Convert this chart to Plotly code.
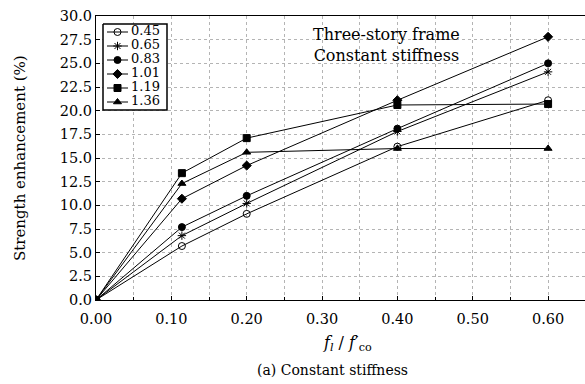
import plotly.graph_objects as go

x_vals = [0.0, 0.114, 0.20, 0.40, 0.60]
series_names = ["0.45", "0.65", "0.83", "1.01", "1.19", "1.36"]
y_045 = [0.0, 5.7, 9.1, 16.2, 21.1]
y_065 = [0.0, 6.8, 10.2, 17.8, 24.1]
y_083 = [0.0, 7.7, 11.0, 18.1, 25.0]
y_101 = [0.0, 10.7, 14.2, 21.1, 27.8]
y_119 = [0.0, 13.4, 17.1, 20.6, 20.7]
y_136 = [0.0, 12.3, 15.6, 16.0, 16.0]
series_values = [y_045, y_065, y_083, y_101, y_119, y_136]
symbols = ["circle-open", "asterisk-open", "circle", "diamond", "square", "triangle-up"]

x_ticks = [0.0, 0.1, 0.2, 0.3, 0.4, 0.5, 0.6]
y_ticks = [0.0, 2.5, 5.0, 7.5, 10.0, 12.5, 15.0, 17.5, 20.0, 22.5, 25.0, 27.5, 30.0]

FONT = "DejaVu Serif"
W, H = 585, 384
ML, MR, MT, MB = 96, 0, 16, 84
PW, PH = W - ML - MR, H - MT - MB

fig = go.Figure()
for name, ys, sym in zip(series_names, series_values, symbols):
    fig.add_trace(go.Scatter(
        x=x_vals, y=ys, name=name, mode="lines+markers", showlegend=False,
        line=dict(color="black", width=1),
        marker=dict(symbol=sym, size=7, color="black",
                    line=dict(color="black", width=1)),
    ))

# Hand-drawn legend on an overlay pixel axis (compact spacing like the reference)
ROW0, ROWH = 16.0, 14.0
n = len(series_names)
box_x0, box_x1 = 7, 71
box_y0, box_y1 = ROW0 - 8, ROW0 + ROWH * (n - 1) + 8
fig.add_trace(go.Scatter(
    x=[box_x0, box_x1, box_x1, box_x0, box_x0],
    y=[box_y0, box_y0, box_y1, box_y1, box_y0],
    xaxis="x2", yaxis="y2", mode="lines", fill="toself", fillcolor="white",
    line=dict(color="black", width=1.5), showlegend=False, hoverinfo="skip"))
rows = [ROW0 + ROWH * i for i in range(n)]
for yc, sym in zip(rows, symbols):
    fig.add_trace(go.Scatter(
        x=[11, 32], y=[yc, yc], xaxis="x2", yaxis="y2", mode="lines",
        line=dict(color="black", width=1), showlegend=False, hoverinfo="skip"))
    fig.add_trace(go.Scatter(
        x=[21.5], y=[yc], xaxis="x2", yaxis="y2", mode="markers",
        marker=dict(symbol=sym, size=7, color="black", line=dict(color="black", width=1)),
        showlegend=False, hoverinfo="skip"))
fig.add_trace(go.Scatter(
    x=[35] * n, y=rows, text=series_names, xaxis="x2", yaxis="y2",
    mode="text", textposition="middle right",
    textfont=dict(family=FONT, size=13, color="black"),
    showlegend=False, hoverinfo="skip"))

annotations = [
    dict(text="Three-story frame<br>Constant stiffness",
         x=0.385, y=26.9, xref="x", yref="y", xanchor="center", yanchor="middle",
         showarrow=False, font=dict(family=FONT, size=16), align="center"),
    dict(text="<i>f</i><sub><i>l</i></sub> / <i>f</i>′<sub>co</sub>",
         x=(347 - ML) / PW, y=0, xref="paper", yref="paper",
         xanchor="center", yanchor="middle", yshift=-43, showarrow=False,
         font=dict(family=FONT, size=16)),
    dict(text="(a) Constant stiffness", x=(332 - ML) / PW, y=0, xref="paper", yref="paper",
         xanchor="center", yanchor="middle", yshift=-70, showarrow=False,
         font=dict(family=FONT, size=14)),
    dict(text="Strength enhancement (%)", x=0, y=0.5, xref="paper", yref="paper",
         xanchor="center", yanchor="middle", xshift=-(ML - 20), textangle=-90,
         showarrow=False, font=dict(family=FONT, size=15)),
]

fig.update_layout(
    width=W, height=H,
    margin=dict(l=ML, r=MR, t=MT, b=MB),
    paper_bgcolor="white", plot_bgcolor="white",
    font=dict(family=FONT, size=15, color="black"),
    showlegend=False,
    xaxis=dict(
        range=[0, 0.649], tickvals=x_ticks,
        ticktext=[f"{v:.2f}" for v in x_ticks],
        tickfont=dict(family=FONT, size=14.5), ticklabelstandoff=5,
        showline=True, linecolor="black", linewidth=1.2, mirror=True,
        ticks="inside", ticklen=4, tickcolor="black",
        showgrid=True, gridcolor="#b4b4b4", griddash="dot", gridwidth=1,
        minor=dict(dtick=0.05, tick0=0, showgrid=True, gridcolor="#b4b4b4",
                   griddash="dot", ticks="inside", ticklen=3, tickcolor="black"),
        zeroline=False, fixedrange=True,
    ),
    yaxis=dict(
        range=[0, 30], tickvals=y_ticks,
        ticktext=[f"{v:.1f}" for v in y_ticks],
        tickfont=dict(family=FONT, size=14.5),
        showline=True, linecolor="black", linewidth=1.2, mirror=True,
        ticks="inside", ticklen=4, tickcolor="black",
        showgrid=True, gridcolor="#b4b4b4", griddash="dot", gridwidth=1,
        zeroline=False, fixedrange=True,
    ),
    xaxis2=dict(overlaying="x", range=[0, PW], visible=False, fixedrange=True),
    yaxis2=dict(overlaying="y", range=[PH, 0], visible=False, fixedrange=True),
    annotations=annotations,
)

fig.write_html("out.html")
